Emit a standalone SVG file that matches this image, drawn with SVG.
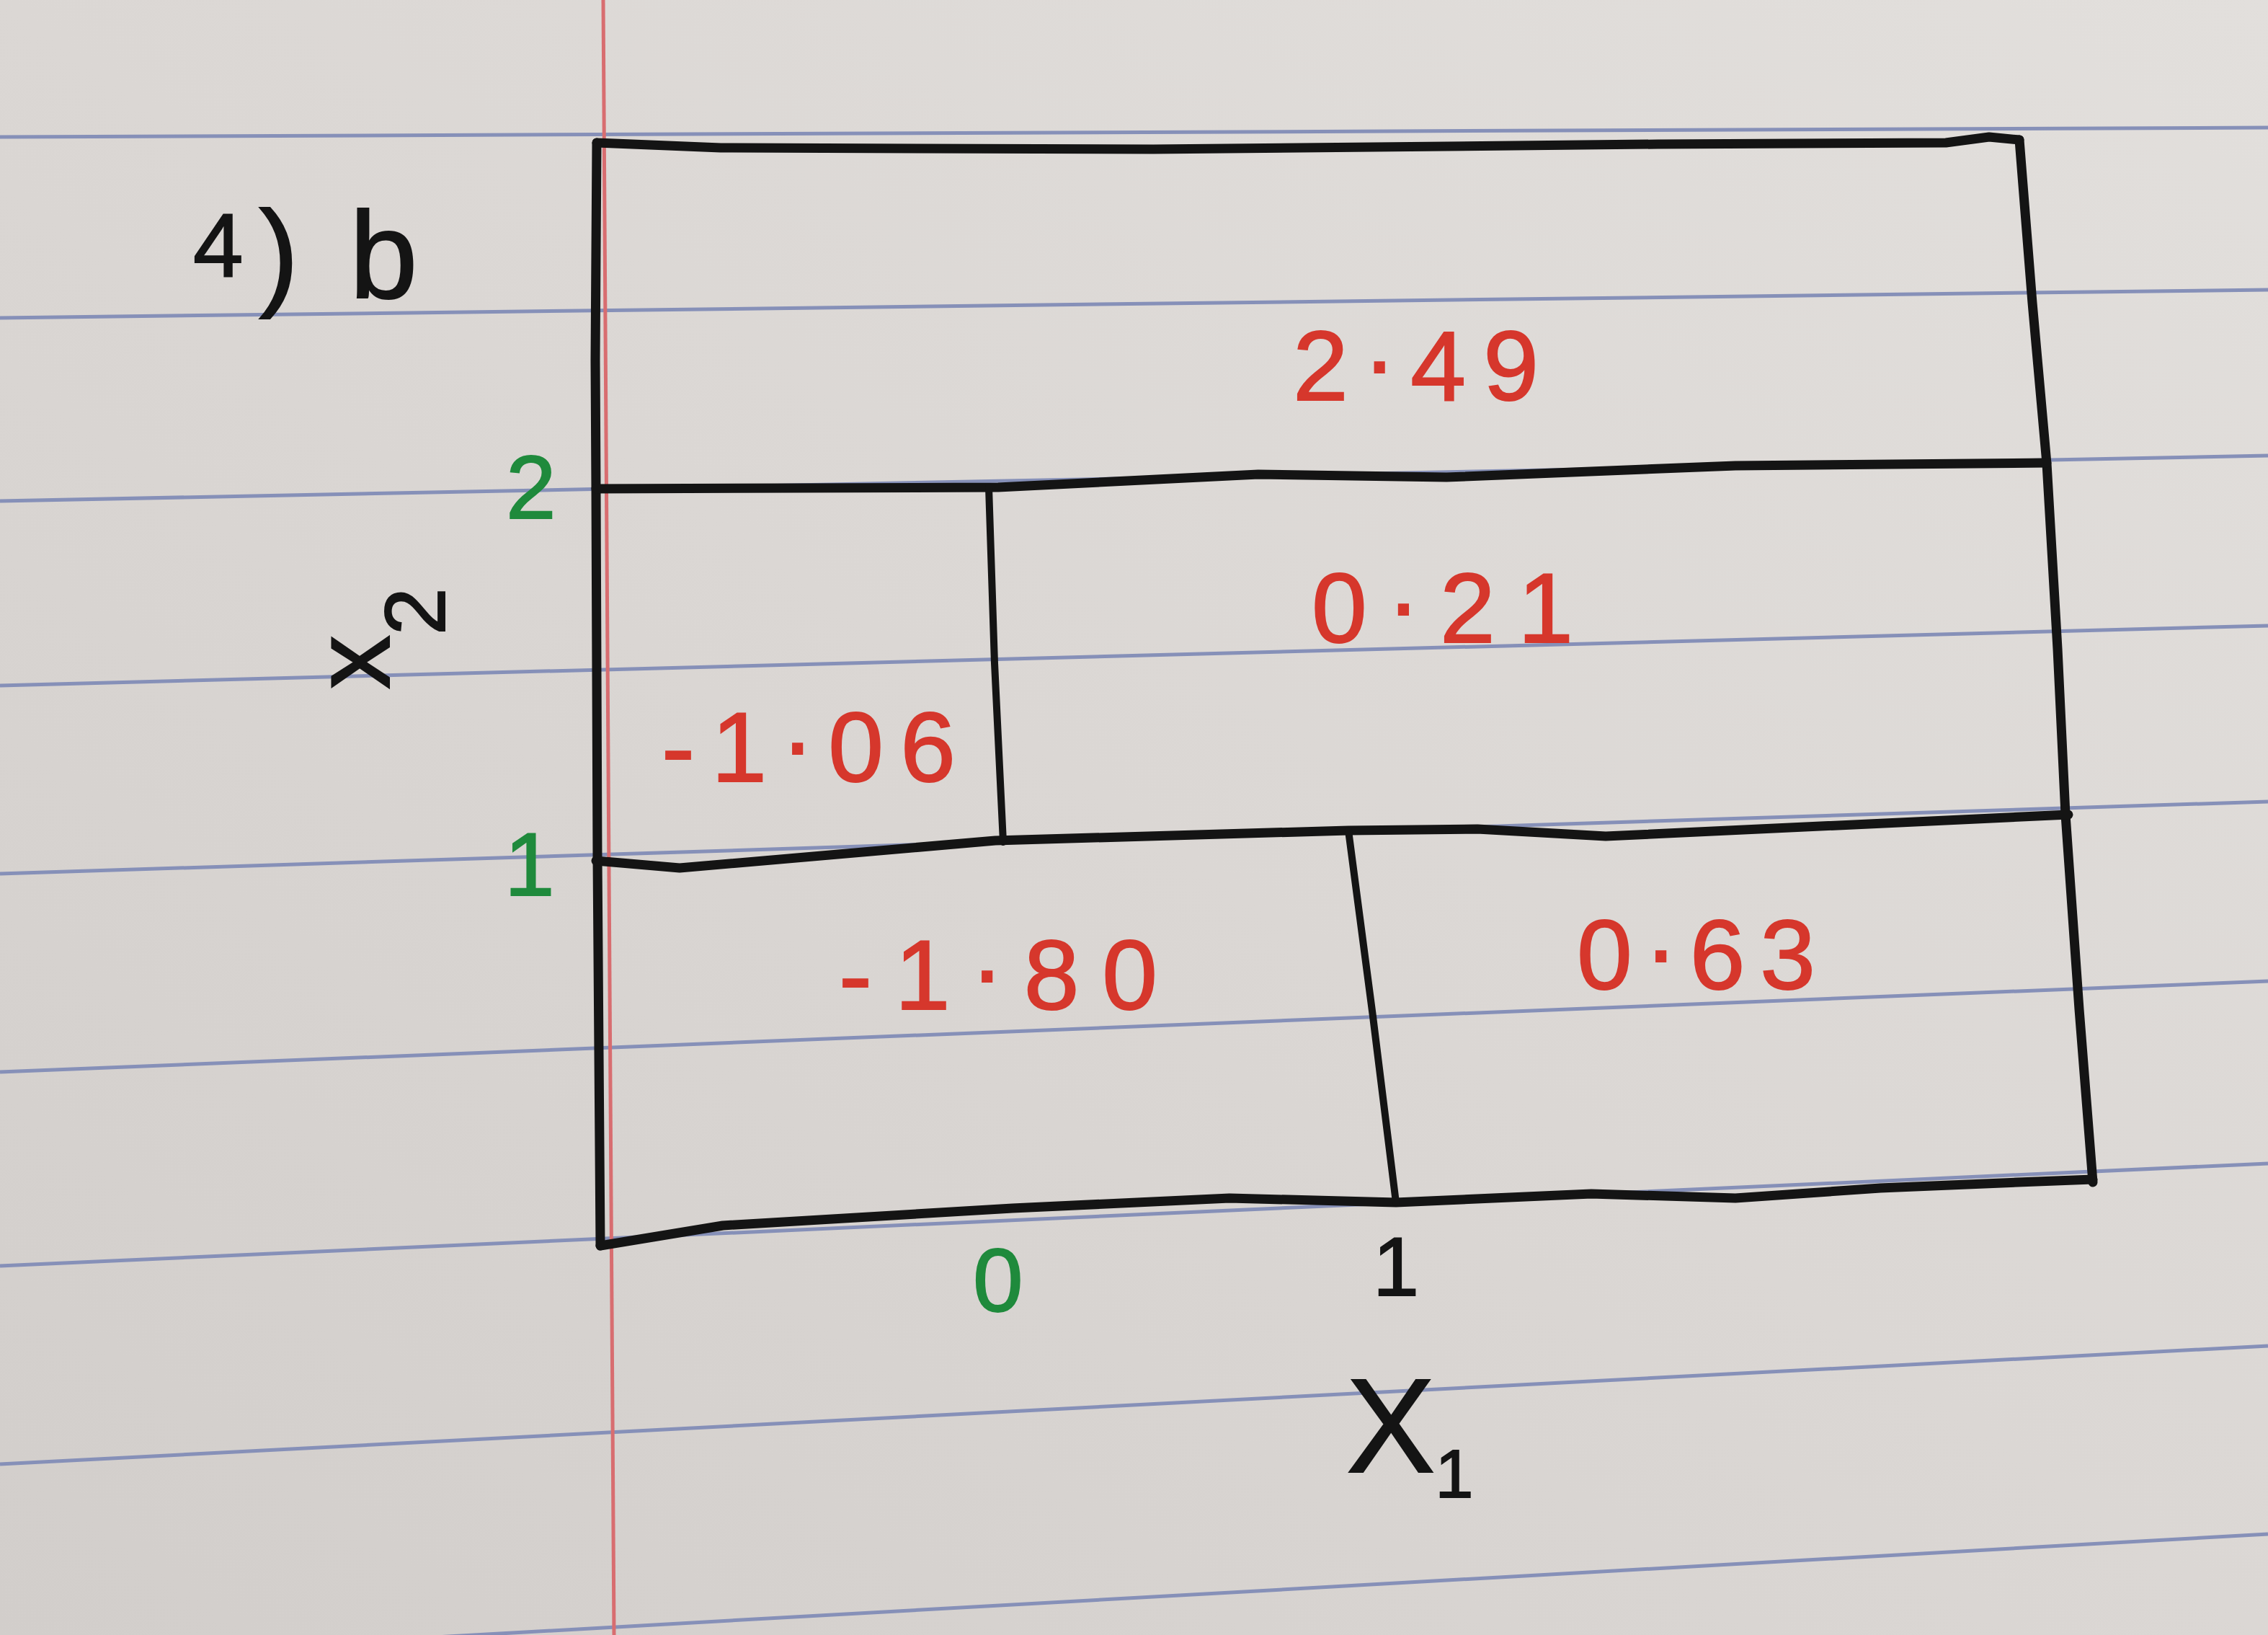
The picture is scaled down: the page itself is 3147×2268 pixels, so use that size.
<svg xmlns="http://www.w3.org/2000/svg" width="3147" height="2268" viewBox="0 0 3147 2268">
<defs>
<linearGradient id="paper" x1="1" y1="0" x2="0" y2="1">
<stop offset="0" stop-color="#e2dfdc"/>
<stop offset="0.5" stop-color="#dbd7d4"/>
<stop offset="1" stop-color="#d2cecb"/>
</linearGradient>
<style>
.rule{stroke:#8690b8;stroke-width:5;fill:none}
.margin{stroke:#d86d70;stroke-width:5;fill:none}
.ink{stroke:#141414;stroke-width:13;fill:none;stroke-linejoin:round;stroke-linecap:round}
.thin{stroke-width:10}
.val{font-family:"Liberation Sans",Arial,sans-serif;fill:#d6372c;stroke:#d6372c;stroke-width:2;font-size:138px}
.tick{font-family:"Liberation Sans",Arial,sans-serif;fill:#1f8a3c;stroke:#1f8a3c;stroke-width:2;font-size:125px}
.lab{font-family:"Liberation Sans",Arial,sans-serif;fill:#141414;stroke:#141414;stroke-width:2}
</style>
</defs>
<rect x="0" y="0" width="3147" height="2268" fill="url(#paper)"/>
<g id="paper-lines">
<line class="rule" x1="0" y1="190" x2="3147" y2="177"/>
<line class="rule" x1="0" y1="441" x2="3147" y2="402"/>
<line class="rule" x1="0" y1="695" x2="3147" y2="632"/>
<line class="rule" x1="0" y1="951" x2="3147" y2="868"/>
<line class="rule" x1="0" y1="1212" x2="3147" y2="1112"/>
<line class="rule" x1="0" y1="1487" x2="3147" y2="1361"/>
<line class="rule" x1="0" y1="1756" x2="3147" y2="1614"/>
<line class="rule" x1="0" y1="2031" x2="3147" y2="1867"/>
<line class="rule" x1="0" y1="2305" x2="3147" y2="2128"/>
<line class="margin" x1="837" y1="0" x2="852" y2="2268"/>
</g>
<g id="partition">
<polyline class="ink" points="828,198 1000,205 1600,207 2300,200 2700,198 2760,190 2802,194"/>
<polyline class="ink" points="2802,194 2820,420 2840,643 2855,900 2866,1130 2885,1400 2904,1640"/>
<polyline class="ink" points="828,198 826,500 827,678 829,1190 833,1728"/>
<polyline class="ink" points="833,1728 1003,1700 1405,1676 1706,1662 1937,1668 2208,1656 2408,1662 2609,1648 2800,1640 2904,1636"/>
<polyline class="ink" points="827,678 1385,676 1746,658 2007,662 2408,646 2840,642"/>
<polyline class="ink" points="827,1194 943,1204 1381,1166 1871,1152 2050,1150 2228,1160 2870,1130"/>
<polyline class="ink thin" points="1372,676 1380,920 1392,1168"/>
<polyline class="ink thin" points="1871,1152 1905,1410 1937,1668"/>
</g>
<g id="values">
<text class="val" x="1794" y="555" textLength="341" lengthAdjust="spacing">2<tspan dy="-38">.</tspan><tspan dy="38">49</tspan></text>
<text class="val" x="1820" y="891" textLength="363" lengthAdjust="spacing">0<tspan dy="-38">.</tspan><tspan dy="38">21</tspan></text>
<text class="val" x="918" y="1084" textLength="408" lengthAdjust="spacing">-1<tspan dy="-38">.</tspan><tspan dy="38">06</tspan></text>
<text class="val" x="1164" y="1400" textLength="442" lengthAdjust="spacing">-1<tspan dy="-38">.</tspan><tspan dy="38">80</tspan></text>
<text class="val" x="2188" y="1372" textLength="331" lengthAdjust="spacing">0<tspan dy="-38">.</tspan><tspan dy="38">63</tspan></text>
</g>
<g id="ticks">
<text class="tick" x="702" y="719">2</text>
<text class="tick" x="700" y="1242">1</text>
<text class="tick" x="1350" y="1819">0</text>
<text class="lab" x="1905" y="1797" font-size="115">1</text>
</g>
<g id="axis-labels">
<text class="lab" x="1868" y="2042" font-size="185">X<tspan font-size="95" dy="35">1</tspan></text>
<text class="lab" transform="translate(540,956) rotate(-90)" font-size="150">x<tspan font-size="118" dy="77">2</tspan></text>
<text class="lab" x="268" y="383" font-size="125">4<tspan font-size="165" dx="22" dy="25">)</tspan><tspan x="485" dy="5" font-size="170">b</tspan></text>
</g>
</svg>
